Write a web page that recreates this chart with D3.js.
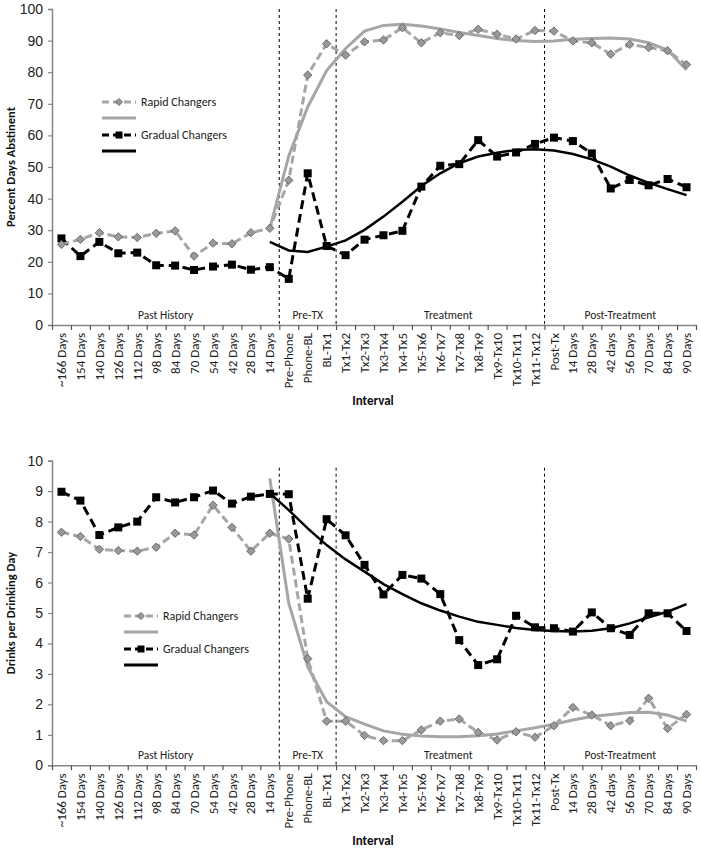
<!DOCTYPE html>
<html>
<head>
<meta charset="utf-8">
<script src="https://cdn.jsdelivr.net/npm/d3@7"></script>
<style>
  body { margin: 0; background: #fff; }
  svg { display: block; font-family: Calibri, Lato, "Open Sans", sans-serif; }
</style>
</head>
<body>
<div id="chart"></div>
<script>
const categories = ["~166 Days","154 Days","140 Days","126 Days","112 Days","98 Days","84 Days","70 Days","54 Days","42 Days","28 Days","14 Days",
  "Pre-Phone","Phone-BL","BL-Tx1",
  "Tx1-Tx2","Tx2-Tx3","Tx3-Tx4","Tx4-Tx5","Tx5-Tx6","Tx6-Tx7","Tx7-Tx8","Tx8-Tx9","Tx9-Tx10","Tx10-Tx11","Tx11-Tx12",
  "Post-Tx","14 Days","28 Days","42 days","56 Days","70 Days","84 Days","90 Days"];

// section name, first category index, end index (exclusive)
const sections = [["Past History", 0, 12], ["Pre-TX", 12, 15], ["Treatment", 15, 26], ["Post-Treatment", 26, 34]];
const fitStart = 11; // fitted curves begin at "14 Days"

// Percent Days Abstinent
const pdaRapid = [25.5,27.1,29.2,27.9,27.7,29.0,29.8,21.8,25.9,25.7,29.2,30.6,45.8,79.1,89.0,85.4,89.6,90.2,94.1,89.3,92.5,91.6,93.6,92.0,90.5,93.2,93.0,89.9,89.3,85.7,88.8,87.8,86.8,82.4];
const pdaGradual = [27.4,21.8,26.3,22.7,22.9,18.9,18.8,17.4,18.5,19.1,17.5,18.3,14.6,48.0,25.0,22.1,27.0,28.4,29.8,43.8,50.4,50.9,58.5,53.3,54.6,57.3,59.3,58.2,54.3,43.2,45.9,44.2,46.2,43.6];
const pdaRapidFit = [30.6,53.5,69.0,80.5,87.5,93.0,94.8,95.2,94.6,93.7,92.6,91.6,90.7,90.0,89.7,89.9,90.4,90.7,90.8,90.5,89.3,87.0,80.7];
const pdaGradualFit = [26.3,23.6,23.1,24.8,26.8,30.1,34.3,39.0,44.0,48.0,51.2,53.3,54.5,55.4,55.6,55.2,54.1,52.4,50.1,47.3,45.0,43.0,41.1];

// Drinks per Drinking Day
const dpdRapid = [7.65,7.51,7.09,7.05,7.03,7.16,7.62,7.56,8.54,7.81,7.03,7.62,7.43,3.50,1.45,1.45,0.98,0.81,0.81,1.16,1.45,1.52,1.08,0.83,1.10,0.92,1.30,1.90,1.65,1.30,1.46,2.20,1.21,1.67];
const dpdGradual = [8.98,8.69,7.56,7.81,8.00,8.80,8.63,8.80,9.02,8.59,8.82,8.91,8.90,5.47,8.08,7.55,6.58,5.61,6.25,6.13,5.62,4.11,3.29,3.48,4.91,4.53,4.50,4.39,5.02,4.50,4.28,4.99,4.99,4.41];
const dpdRapidFit = [9.42,5.32,3.24,2.09,1.60,1.35,1.13,1.02,0.96,0.94,0.94,0.97,1.03,1.13,1.23,1.35,1.49,1.60,1.67,1.73,1.74,1.65,1.45];
const dpdGradualFit = [8.93,8.38,7.78,7.23,6.76,6.36,5.95,5.62,5.32,5.08,4.88,4.71,4.61,4.51,4.44,4.41,4.39,4.42,4.50,4.66,4.86,5.04,5.29];

const legendNames = ["Rapid Changers", "Gradual Changers"];

const width = 701, height = 849;
const left = 52, right = 696;
const grey = "#a6a6a6", axisGrey = "#868686";

const svg = d3.select("#chart").append("svg").attr("width", width).attr("height", height);

const x = d3.scaleBand().domain(d3.range(categories.length)).range([left, right]);
const xb = d3.scaleLinear().domain([0, categories.length]).range([left, right]);

function panel(opt){
    const g = svg.append("g");
    const y = d3.scaleLinear().domain([0, opt.max]).range([opt.bottom, opt.top]);

    // y axis
    const ya = g.append("g").attr("transform", `translate(${left},0)`)
        .call(d3.axisLeft(y).tickValues(d3.range(0, opt.max + 0.001, opt.step)).tickSize(4).tickPadding(5));
    ya.select(".domain").attr("stroke", axisGrey).attr("stroke-width", 1.5);
    ya.selectAll(".tick line").attr("stroke", axisGrey).attr("stroke-width", 1.2);
    ya.selectAll(".tick text").attr("font-size", 14).attr("fill", "#222").style("font-family", "inherit");

    // x axis: ticks on band boundaries
    const xa = g.append("g").attr("transform", `translate(0,${opt.bottom})`)
        .call(d3.axisBottom(xb).tickValues(d3.range(categories.length + 1)).tickFormat("").tickSize(5).tickSizeOuter(0));
    xa.select(".domain").attr("stroke", axisGrey).attr("stroke-width", 1.5);
    xa.selectAll(".tick line").attr("stroke", "#555").attr("stroke-width", 1.2);

    g.append("g").selectAll("text").data(categories).join("text")
        .attr("transform", (d, i) => `translate(${x(i) + x.bandwidth() / 2},${opt.bottom + 8}) rotate(-90)`)
        .attr("text-anchor", "end").attr("dy", "0.35em")
        .attr("font-size", 13).attr("fill", "#222")
        .text(d => d);

    // section dividers and labels
    g.append("g").selectAll("line").data(sections.slice(1)).join("line")
        .attr("x1", d => xb(d[1])).attr("x2", d => xb(d[1]))
        .attr("y1", opt.top + opt.divTop).attr("y2", opt.bottom)
        .attr("stroke", "#000").attr("stroke-width", 1).attr("stroke-dasharray", "3,3");
    g.append("g").selectAll("text").data(sections).join("text")
        .attr("x", d => xb((d[1] + d[2]) / 2) + (d[0] === "Treatment" ? 8 : 0))
        .attr("y", opt.bottom - 6)
        .attr("text-anchor", "middle").attr("font-size", 11.5).attr("fill", "#222")
        .text(d => d[0]);

    // axis titles
    g.append("text")
        .attr("transform", `translate(${opt.titleX},${(opt.top + opt.bottom) / 2}) rotate(-90)`)
        .attr("text-anchor", "middle").attr("dy", "0.35em")
        .attr("font-size", 12.5).attr("font-weight", "bold").attr("fill", "#111")
        .text(opt.title);
    g.append("text")
        .attr("x", 373).attr("y", opt.bottom + 80)
        .attr("text-anchor", "middle").attr("font-size", 13).attr("font-weight", "bold").attr("fill", "#111")
        .text("Interval");

    const line = d3.line().x(d => x(d[0]) + x.bandwidth() / 2).y(d => y(d[1]));
    const pts = arr => arr.map((v, i) => [i, v]);
    const fitPts = arr => arr.map((v, i) => [i + fitStart, v]);

    const series = [
        {fit: opt.rapidFit, color: grey, width: 3},
        {fit: opt.gradualFit, color: "#000", width: 2.5}
    ];
    // draw order: rapid fit, gradual fit, dashed series
    series.forEach(s => {
        g.append("path").datum(fitPts(s.fit)).attr("d", line)
            .attr("fill", "none").attr("stroke", s.color).attr("stroke-width", s.width);
    });

    g.append("path").datum(pts(opt.gradual)).attr("d", line)
        .attr("fill", "none").attr("stroke", "#000").attr("stroke-width", 3).attr("stroke-dasharray", "9,5");
    g.selectAll(".sq").data(pts(opt.gradual)).join("rect").attr("class", "sq")
        .attr("x", d => x(d[0]) + x.bandwidth() / 2 - 4).attr("y", d => y(d[1]) - 4)
        .attr("width", 8).attr("height", 8).attr("fill", "#000");

    g.append("path").datum(pts(opt.rapid)).attr("d", line)
        .attr("fill", "none").attr("stroke", grey).attr("stroke-width", 3).attr("stroke-dasharray", "8,4");
    g.selectAll(".dia").data(pts(opt.rapid)).join("path").attr("class", "dia")
        .attr("transform", d => `translate(${x(d[0]) + x.bandwidth() / 2},${y(d[1])})`)
        .attr("d", "M0,-4.2L4.2,0L0,4.2L-4.2,0Z")
        .attr("fill", "#999").attr("stroke", "#555").attr("stroke-width", 0.8);

    // legend
    const lg = g.append("g").attr("transform", `translate(${opt.legX},${opt.legY})`);
    const lw = 34;
    lg.append("line").attr("x1", 0).attr("x2", lw).attr("y1", 0).attr("y2", 0)
        .attr("stroke", grey).attr("stroke-width", 3).attr("stroke-dasharray", "7,4");
    lg.append("path").attr("transform", `translate(${lw / 2},0)`).attr("d", "M0,-3.5L3.5,0L0,3.5L-3.5,0Z")
        .attr("fill", "#999").attr("stroke", "#555").attr("stroke-width", 0.8);
    lg.append("line").attr("x1", 0).attr("x2", lw).attr("y1", 16).attr("y2", 16)
        .attr("stroke", grey).attr("stroke-width", 3);
    lg.append("line").attr("x1", 0).attr("x2", lw).attr("y1", 33).attr("y2", 33)
        .attr("stroke", "#000").attr("stroke-width", 3).attr("stroke-dasharray", "7,4");
    lg.append("rect").attr("x", lw / 2 - 3.5).attr("y", 29.5).attr("width", 7).attr("height", 7).attr("fill", "#000");
    lg.append("line").attr("x1", 0).attr("x2", lw).attr("y1", 49).attr("y2", 49)
        .attr("stroke", "#000").attr("stroke-width", 3);
    lg.selectAll("text.lab").data(legendNames).join("text").attr("class", "lab")
        .attr("x", lw + 5).attr("y", (d, i) => i * 33).attr("dy", "0.35em")
        .attr("font-size", 12).attr("fill", "#222").text(d => d);
}

panel({
    top: 9, bottom: 325, max: 100, step: 10, divTop: 0,
    title: "Percent Days Abstinent", titleX: 11,
    rapid: pdaRapid, gradual: pdaGradual, rapidFit: pdaRapidFit, gradualFit: pdaGradualFit,
    legX: 102, legY: 102
});

panel({
    top: 460.7, bottom: 765.3, max: 10, step: 1, divTop: 7,
    title: "Drinks per Drinking Day", titleX: 11,
    rapid: dpdRapid, gradual: dpdGradual, rapidFit: dpdRapidFit, gradualFit: dpdGradualFit,
    legX: 124, legY: 616
});
</script>
</body>
</html>
